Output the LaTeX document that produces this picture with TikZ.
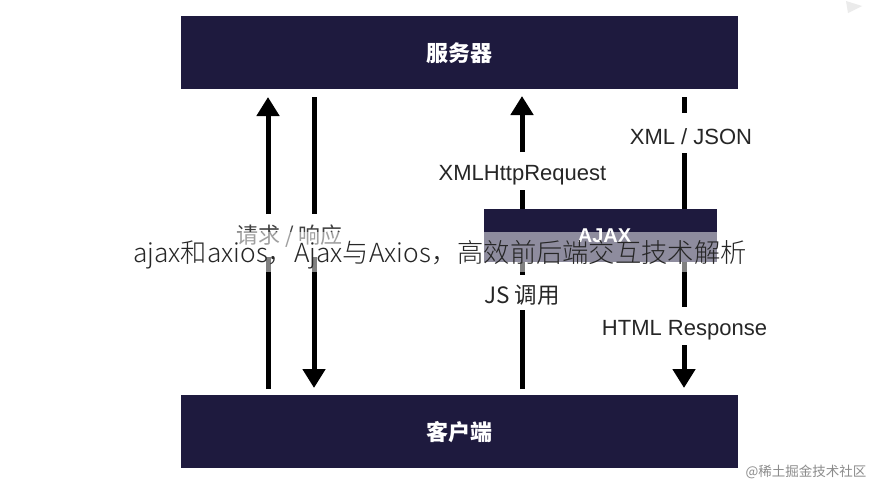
\documentclass[tikz,border=0pt]{standalone}
\usepackage{fontspec}
\setmainfont{Liberation Sans}
\newfontfamily\cjk{Noto Sans CJK SC}
\newfontfamily\cjklight{Noto Sans CJK SC Light}
\usetikzlibrary{arrows.meta}
\definecolor{navy}{HTML}{1E1A3E}
\tikzset{
  panel/.style={fill=navy,draw=none,inner sep=0pt,text=white,font=\cjk\bfseries\fontsize{22}{24}\selectfont},
  wire/.style={draw=black,line width=5pt},
  tipwire/.style={wire,-{Triangle[length=19pt,width=22pt]}},
  lbl/.style={inner sep=0pt,text=black!85,font=\fontsize{22}{24}\selectfont},
  veil/.style={fill=white,fill opacity=0.5,draw=none},
  headline/.style={inner sep=0pt,text=black!85,font=\cjklight\fontsize{26.3}{28}\selectfont}
}
\begin{document}
\begin{tikzpicture}[x=1pt,y=-1pt]
\useasboundingbox (0,0) rectangle (878,490);
\fill[white] (0,0) rectangle (878,490);
% panels
\node[panel,minimum width=557pt,minimum height=73pt,anchor=north west] (server) at (181,16) {服务器};
\node[panel,minimum width=557pt,minimum height=73pt,anchor=north west] (client) at (181,395) {客户端};
\node[panel,minimum width=233pt,minimum height=53pt,anchor=north west] (ajax) at (484,209) {};
\node[inner sep=0pt,text=white,font=\bfseries\fontsize{20}{22}\selectfont] (ajaxt) at (604.5,236) {AJAX};
% labels
\node[lbl,font=\cjk\fontsize{22}{24}\selectfont,text=black!75] (l1) at (289.5,236) {请求 / 响应};
\node[lbl] (l2) at (522.5,175) {XMLHttpRequest};
\node[lbl] (l3) at (691,137) {XML / JSON};
\node[lbl,font=\cjk\fontsize{22.5}{24}\selectfont] (l4) at (522,295) {JS 调用};
\node[lbl] (l5) at (684.5,330) {HTML Response};
% anchors on the panels
\coordinate (a1b) at (268,389); \coordinate (a1m) at (268,257); \coordinate (a1n) at (268,214); \coordinate (a1t) at (268,97);
\coordinate (a2t) at (314,97); \coordinate (a2n) at (314,214); \coordinate (a2m) at (314,257); \coordinate (a2b) at (314,388);
\coordinate (a3b) at (522,389); \coordinate (a3m) at (522,310); \coordinate (a3j) at (522,262); \coordinate (a3k) at (522,275); \coordinate (a3n) at (522,190); \coordinate (a3o) at (522,152); \coordinate (a3t) at (522,96);
\coordinate (a4t) at (684,97); \coordinate (a4u) at (684,113); \coordinate (a4v) at (684,153); \coordinate (a4m) at (684,307); \coordinate (a4n) at (684,345); \coordinate (a4b) at (684,388);
% connectors
\draw[tipwire] (a1n) -- (a1t);
\draw[wire] (a1b) -- (a1m);
\draw[wire] (a2t) -- (a2n);
\draw[tipwire] (a2m) -- (a2b);
\draw[wire] (a3b) -- (a3m);
\draw[wire] (a3j) -- (a3k);
\draw[wire] (a3n) -- (ajax.north -| a3n);
\draw[tipwire] (a3o) -- (a3t);
\draw[wire] (a4t) -- (a4u);
\draw[wire] (a4v) -- (ajax.north -| a4v);
\draw[wire] (ajax.south -| a4m) -- (a4m);
\draw[tipwire] (a4n) -- (a4b);
% translucent band and headline
\fill[veil] (0,232) rectangle (878,272);
\node[headline] (title) at (440,255) {ajax和axios，Ajax与Axios，高效前后端交互技术解析};
% watermarks
\node[inner sep=0pt,text=black!45,font=\cjk\fontsize{13.5}{15}\selectfont] (wm) at (806,472) {@稀土掘金技术社区};
\fill[black!8] (846,1) -- (862,6) -- (848,13) -- cycle;
\end{tikzpicture}
\end{document}
